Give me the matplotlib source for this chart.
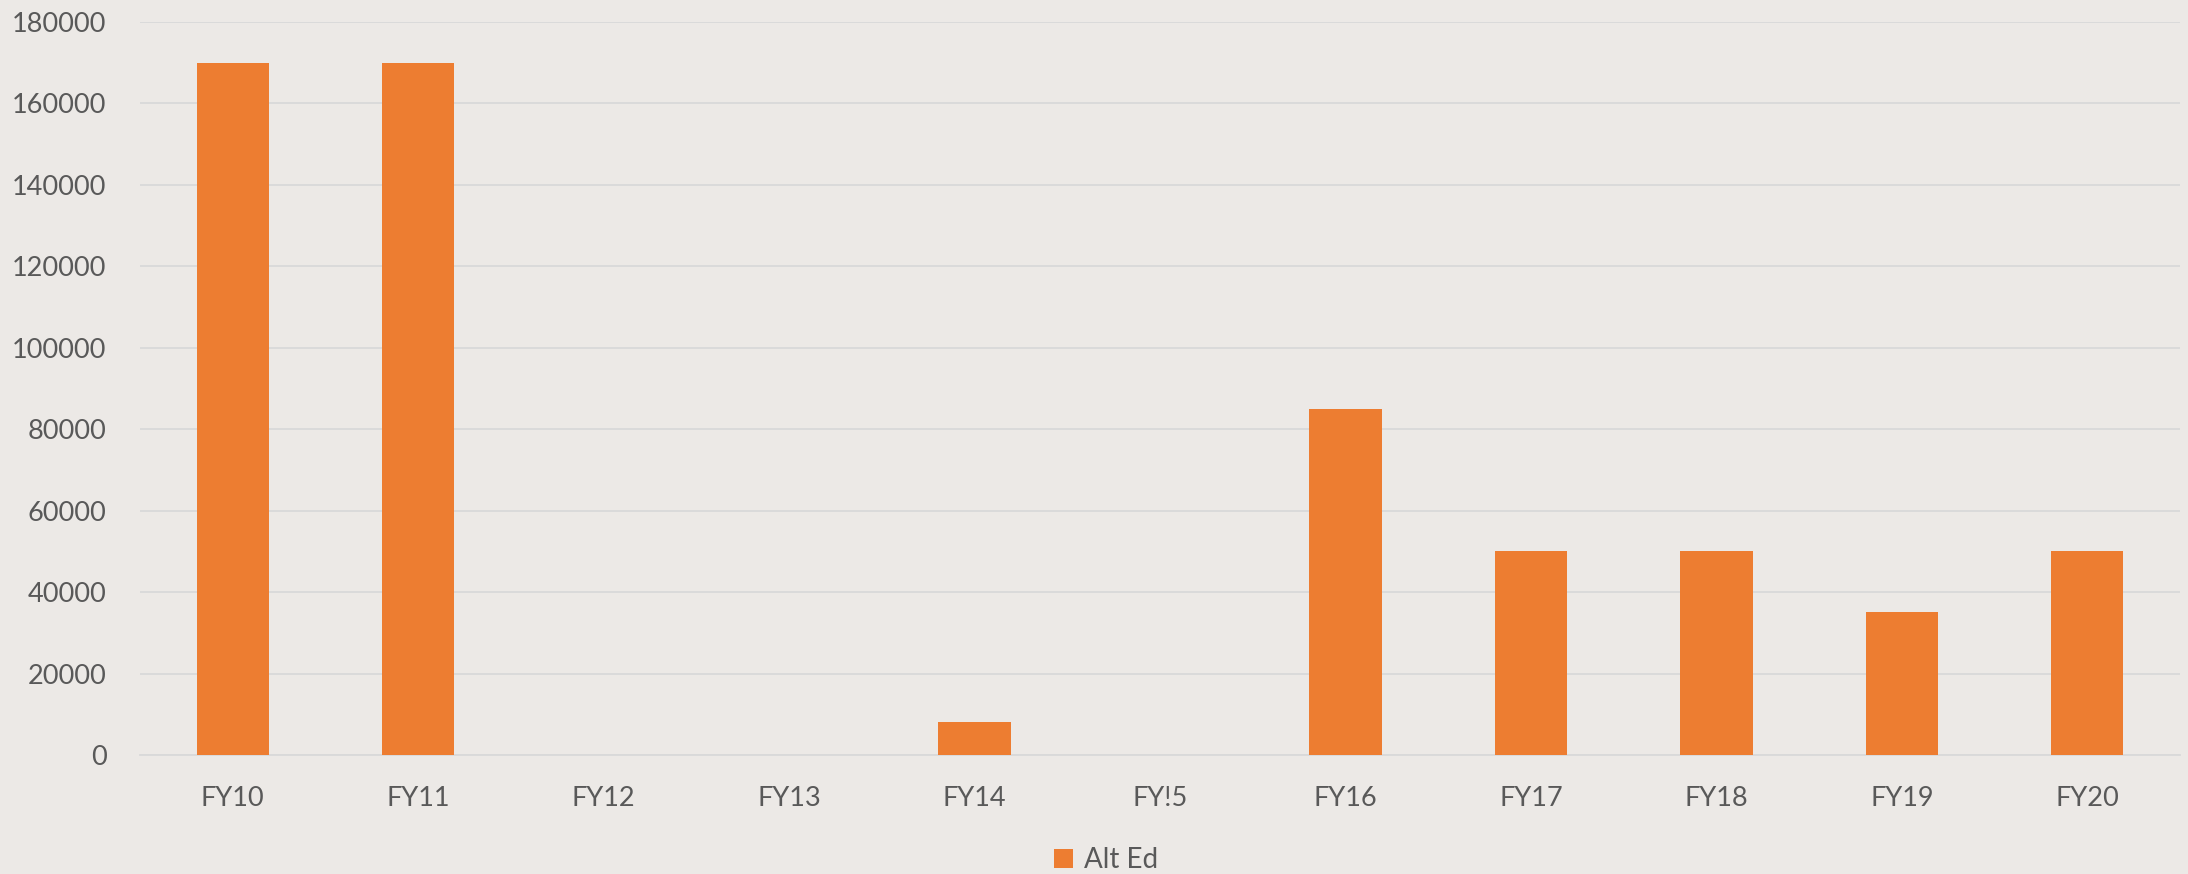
#!/usr/bin/python3

# Bar chart of Alt Ed funding by fiscal year

import matplotlib.pyplot as plt
import numpy as np

years=['FY10','FY11','FY12','FY13','FY14','FY!5','FY16','FY17','FY18','FY19','FY20']
alted=[170000,170000,0,0,8000,0,85000,50000,50000,35000,50000]
yticks=[0,20000,40000,60000,80000,100000,120000,140000,160000,180000]

txtcol='#595959'
plt.rcParams['font.family']=['Lato','DejaVu Sans']

fig=plt.figure(figsize=(21.88,8.74),dpi=100)
fig.patch.set_facecolor('#ece9e6')
ax=fig.add_axes([140/2188,(874-755)/874,2040/2188,(755-22)/874])
ax.set_facecolor('none')

x=np.arange(len(years))
ax.bar(x,alted,width=0.39,color='#ED7D31',label='Alt Ed',zorder=3)

ax.set_xlim(-0.5,len(years)-0.5)
ax.set_ylim(0,180000)
ax.set_yticks(yticks)
ax.set_yticklabels([str(v) for v in yticks])
ax.set_xticks(x)
ax.set_xticklabels(years)
ax.tick_params(axis='both',length=0,labelsize=19.5,labelcolor=txtcol)
ax.tick_params(axis='x',pad=22)
ax.tick_params(axis='y',pad=24)
ax.grid(axis='y',color='#d9d9d9',linewidth=1.3,zorder=0)
for s in ['top','right','left']:
    ax.spines[s].set_visible(False)
ax.spines['bottom'].set_color('#d9d9d9')
ax.spines['bottom'].set_linewidth(1.3)

fig.legend(loc='center',bbox_to_anchor=(1106/2188,1-860/874),frameon=False,
           fontsize=20,labelcolor=txtcol,handlelength=0.7,handleheight=0.7,
           handletextpad=0.4)

plt.savefig('out.png',dpi=100,facecolor=fig.get_facecolor())
